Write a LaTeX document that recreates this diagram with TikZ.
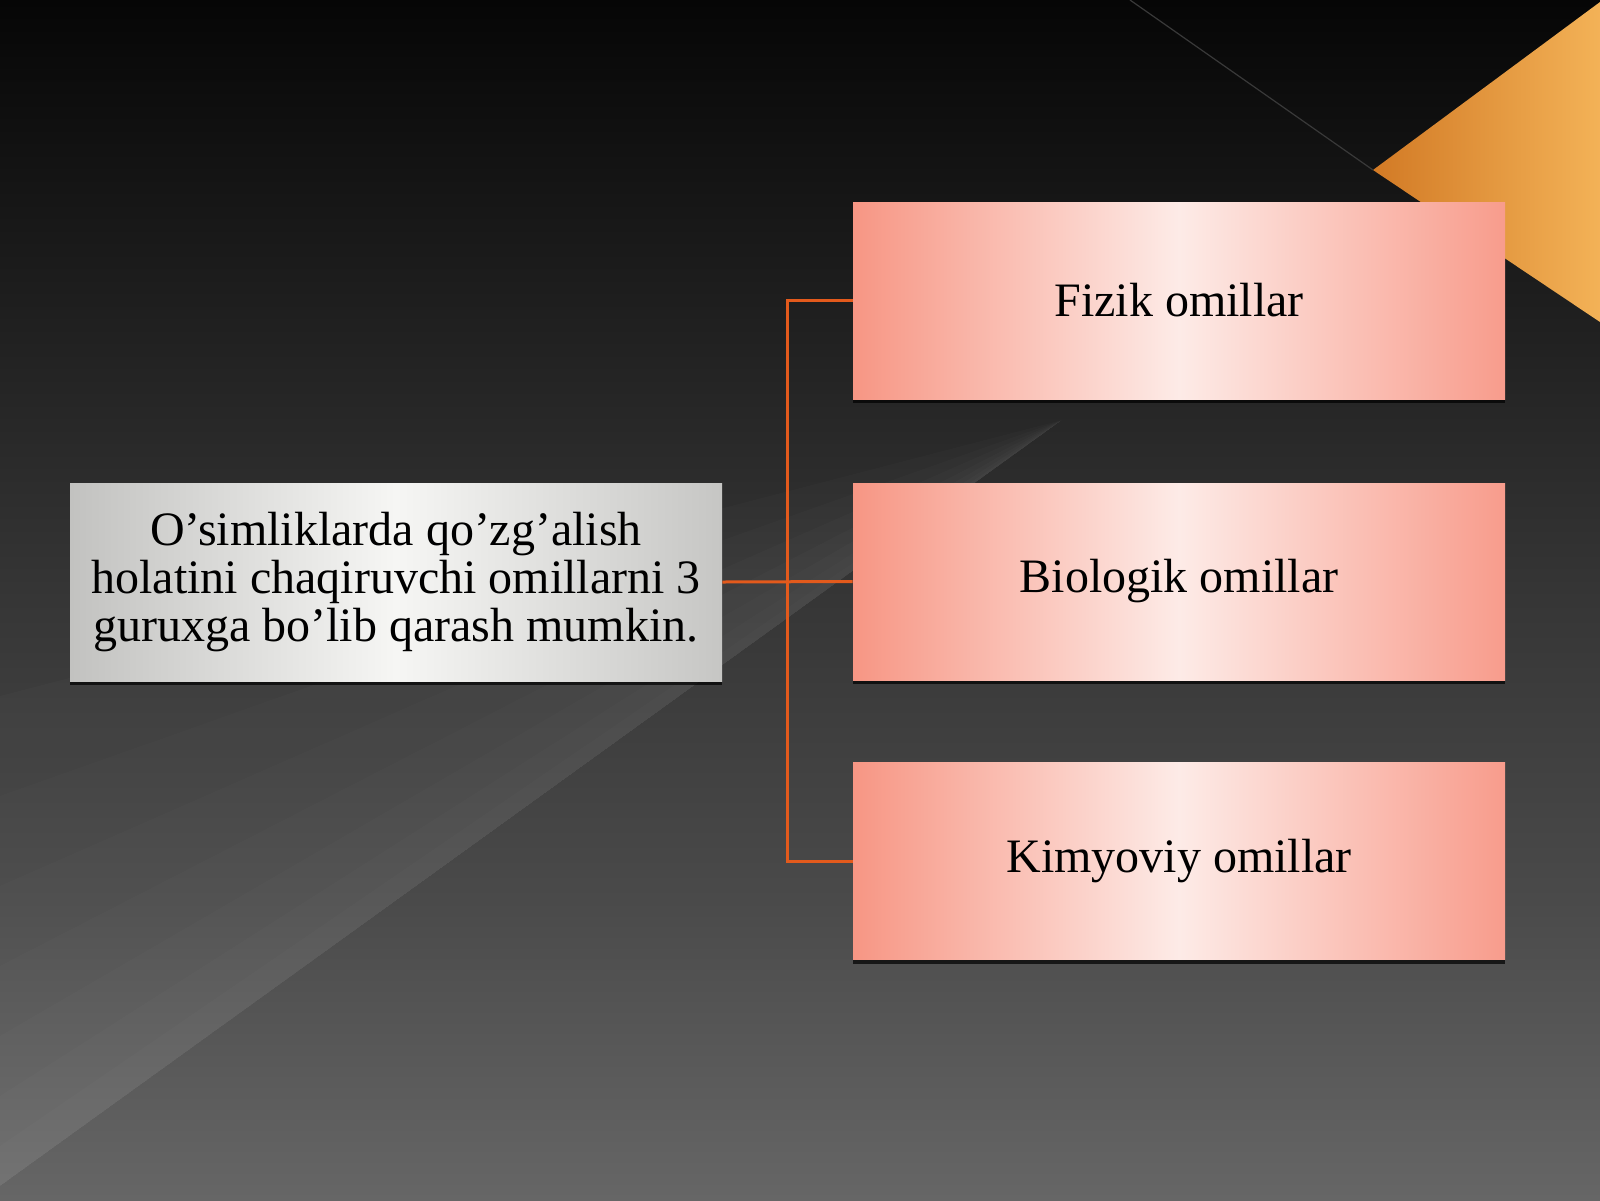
\documentclass[tikz,border=0pt]{standalone}
\usepackage{fontspec}
\setmainfont{Liberation Serif}
\usetikzlibrary{shadows}
\definecolor{bgA}{HTML}{060606}
\definecolor{bgB}{HTML}{1E1E1E}
\definecolor{bgC}{HTML}{363636}
\definecolor{bgD}{HTML}{4A4A4A}
\definecolor{bgE}{HTML}{666666}
\definecolor{orA}{HTML}{D27A25}
\definecolor{orB}{HTML}{F3B257}
\definecolor{salL}{HTML}{F79684}
\definecolor{salR}{HTML}{F89C8C}
\definecolor{pinkW}{HTML}{FDEBE7}
\definecolor{gryL}{HTML}{C2C2C0}
\definecolor{gryR}{HTML}{C6C6C4}
\definecolor{gryW}{HTML}{F6F6F4}
\definecolor{conn}{HTML}{E35A1C}
\pgfdeclareverticalshading{bgshade}{100bp}{color(0bp)=(bgE); color(25bp)=(bgE); color(37.5bp)=(bgD); color(50bp)=(bgC); color(62.5bp)=(bgB); color(75bp)=(bgA); color(100bp)=(bgA)}
\tikzset{
  rbox/.style={rectangle, minimum width=326pt, minimum height=98.5pt, inner sep=0pt,
    left color=salL, right color=salR, middle color=pinkW, text=black,
    font=\fontsize{24}{24}\selectfont,
    drop shadow={shadow xshift=0pt, shadow yshift=-2pt, opacity=0.7, fill=black}},
  lbox/.style={rectangle, minimum width=326pt, minimum height=99pt, inner sep=0pt,
    left color=gryL, right color=gryR, middle color=gryW, text=black, align=center,
    font=\fontsize{24}{24}\selectfont,
    drop shadow={shadow xshift=0pt, shadow yshift=-2pt, opacity=0.7, fill=black}},
  connline/.style={draw=conn, line width=1.5pt},
  streak/.style={fill=white, opacity=0.014}
}
\begin{document}
\begin{tikzpicture}[x=0.5pt,y=-0.5pt]
\useasboundingbox (0,0) rectangle (1600,1200);
% background
\shade[shading=bgshade] (0,0) rectangle (1600,1200);
% light diagonal streak (lighter to the left of the diagonal)
\foreach \d in {40,90,150,220,300,390,490} {
  \fill[streak] (0,1186) -- (1062,420) -- (0,1186-\d) -- cycle;
}
% orange corner
\shade[left color=orA, right color=orB] (1373,170) -- (1600,2) -- (1600,322) -- cycle;
\draw[draw=gray!45!black, line width=0.6pt] (1130,0) -- (1373,170);
% boxes
\node[lbox] (L) at (396,582) {O’simliklarda qo’zg’alish\\holatini chaqiruvchi omillarni 3\\guruxga bo’lib qarash mumkin.};
\node[rbox] (F) at (1179,300.5) {Fizik omillar};
\node[rbox] (B) at (1179,581.5) {Biologik omillar};
\node[rbox] (K) at (1179,861) {Kimyoviy omillar};
% connectors
\coordinate (J) at (787,582);
\draw[connline] (L.east) -- (B.west);
\draw[connline] (F.west) -- (F.west -| J) -- (K.west -| J) -- (K.west);
\end{tikzpicture}
\end{document}
